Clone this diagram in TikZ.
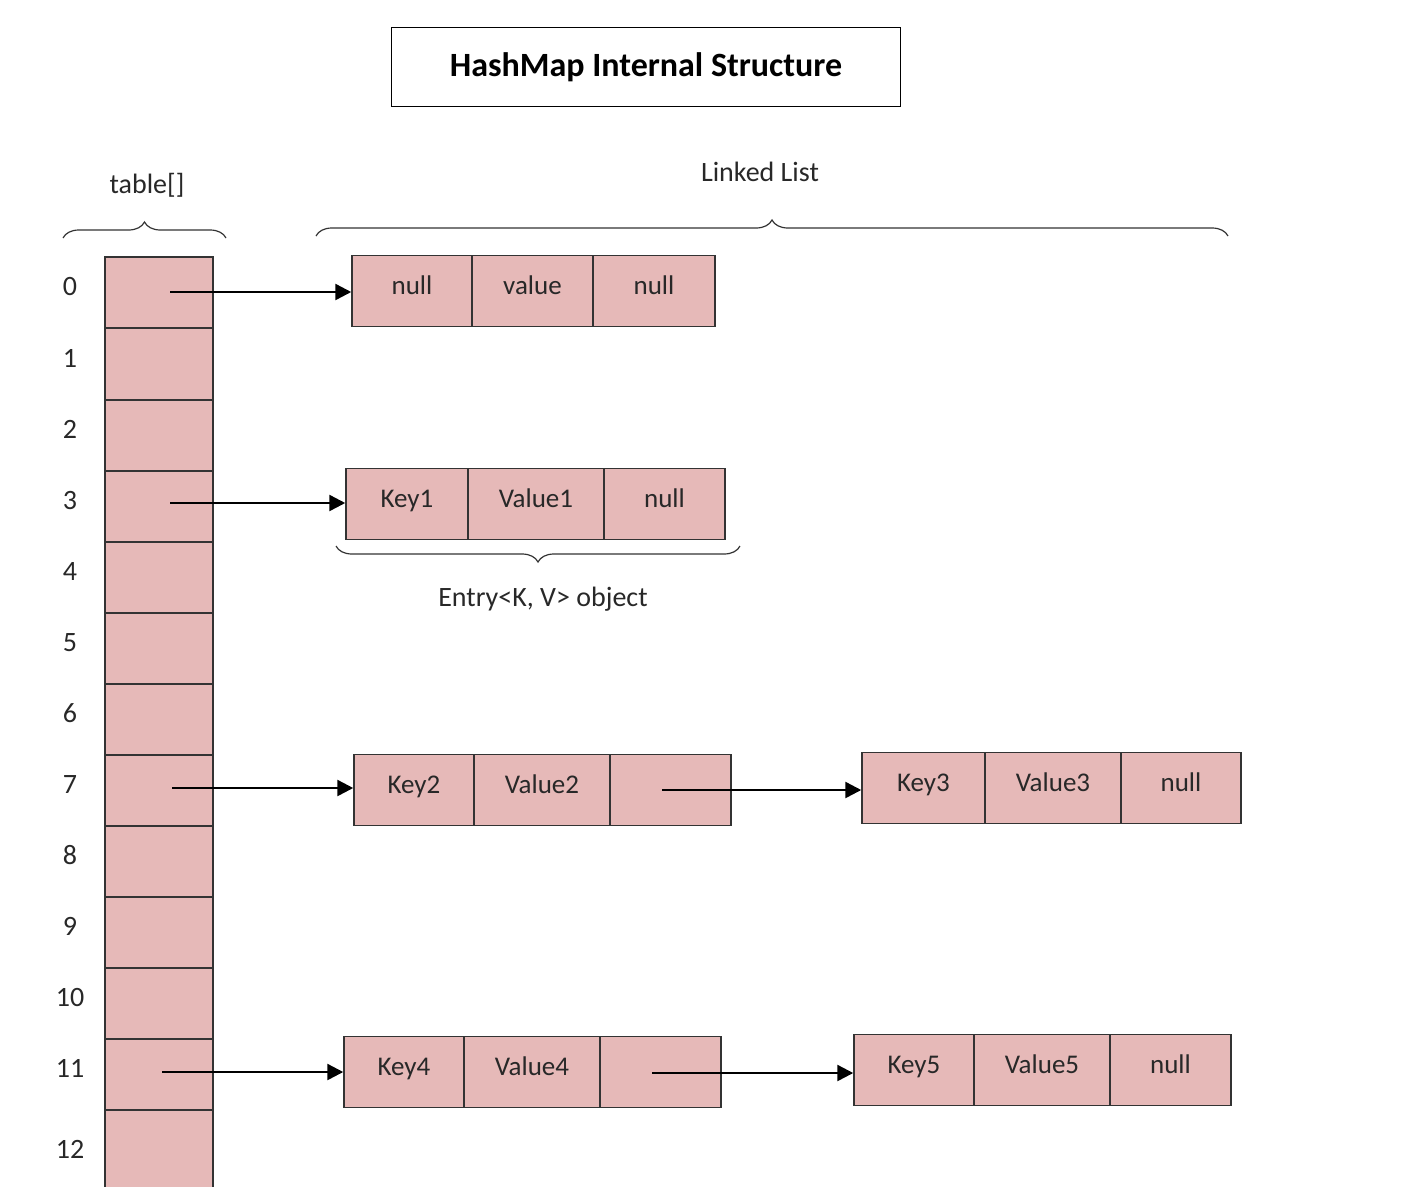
\documentclass[tikz,border=0pt]{standalone}
\usepackage{fontspec}
\setmainfont{Carlito}
\usetikzlibrary{decorations.pathreplacing,arrows.meta}
\definecolor{cellfill}{RGB}{230,185,184}
\definecolor{txt}{RGB}{40,40,40}
\begin{document}
\begin{tikzpicture}[x=1pt,y=-1pt,
  cell/.style={draw=black!80,line width=1.5pt,fill=cellfill,inner sep=0pt,text height=19pt,text depth=13pt,font=\fontsize{27}{30}\selectfont,text=txt},
  arr/.style={line width=2.5pt,-{Triangle[length=16pt,width=16pt]}},
  br/.style={decorate,decoration={brace,amplitude=16pt},line width=1.2pt,draw=black!80},
  lbl/.style={font=\fontsize{28}{32}\selectfont,text=txt}]
\useasboundingbox (0,0) rectangle (1420,1186);
\node[draw,line width=1.5pt,minimum width=509pt,minimum height=79pt,font=\fontsize{34}{38}\selectfont\bfseries] (title) at (646,67) {HashMap Internal Structure};
% table
\foreach \i/\a/\b in {0/257/328,1/328/400,2/400/471,3/471/542,4/542/613,5/613/684,6/684/755,7/755/826,8/826/897,9/897/968,10/968/1039,11/1039/1110,12/1110/1200}{
  \path[cell] (105,\a) rectangle (213,\b);
  \node[lbl] (n\i) at (70,{(\a+\b)/2-6}) {\i};
}
\coordinate (t0) at (170,292);
\coordinate (t3) at (170,503);
\coordinate (t7) at (172,788);
\coordinate (t11) at (162,1072);
\newcommand{\ecell}[5]{\node[cell,minimum width=#3pt,minimum height=71pt] (#1) at (#2,#4) {#5};}
\ecell{a1}{412}{120}{291}{null}\ecell{a2}{532.5}{121}{291}{value}\ecell{a3}{654}{122}{291}{null}
\ecell{b1}{407}{122}{504}{Key1}\ecell{b2}{536}{136}{504}{Value1}\ecell{b3}{664.5}{121}{504}{null}
\ecell{c1}{414}{120}{790}{Key2}\ecell{c2}{542}{136}{790}{Value2}\ecell{c3}{670.5}{121}{790}{}
\ecell{d1}{923.5}{123}{788}{Key3}\ecell{d2}{1053}{136}{788}{Value3}\ecell{d3}{1181}{120}{788}{null}
\ecell{e1}{404}{120}{1072}{Key4}\ecell{e2}{532}{136}{1072}{Value4}\ecell{e3}{660.5}{121}{1072}{}
\ecell{f1}{914}{120}{1070}{Key5}\ecell{f2}{1042}{136}{1070}{Value5}\ecell{f3}{1170.5}{121}{1070}{null}
\draw[arr] (t0) -- (t0 -| a1.west);
\draw[arr] (t3) -- (t3 -| b1.west);
\draw[arr] (t7) -- (t7 -| c1.west);
\draw[arr] (t11) -- (t11 -| e1.west);
\coordinate (c3c) at (662,790); \draw[arr] (c3c) -- (c3c -| d1.west);
\coordinate (e3c) at (652,1073); \draw[arr] (e3c) -- (e3c -| f1.west);
% braces
\coordinate (tb1) at (63,238); \coordinate (tb2) at (226,238);
\draw[br] (tb1) -- (tb2);
\node[lbl] (tl) at (147,185) {table[]};
\coordinate (lb1) at (316,236); \coordinate (lb2) at (1228,236);
\draw[br] (lb1) -- (lb2);
\node[lbl] (ll) at (760,172) {Linked List};
\coordinate (eb1) at (740,546); \coordinate (eb2) at (336,546);
\draw[br] (eb1) -- (eb2);
\node[lbl] (el) at (543,599) {Entry<K, V> object};
\end{tikzpicture}
\end{document}
